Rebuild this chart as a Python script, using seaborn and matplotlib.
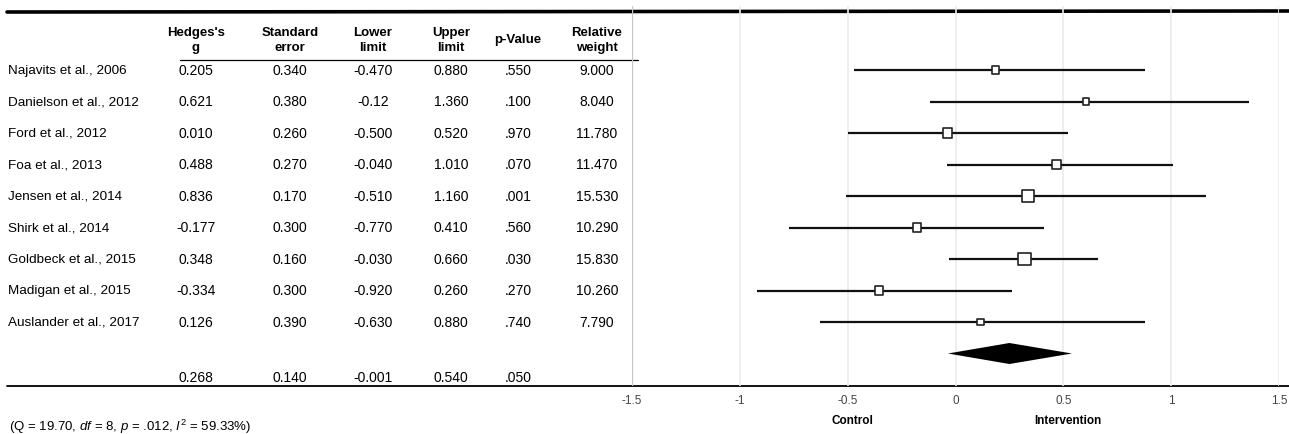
# -*- coding: utf-8 -*-
import matplotlib
matplotlib.use('Agg')
import matplotlib.pyplot as plt
import seaborn as sns
import pandas as pd

studies = ['Najavits et al., 2006', 'Danielson et al., 2012', 'Ford et al., 2012',
           'Foa et al., 2013', 'Jensen et al., 2014', 'Shirk et al., 2014',
           'Goldbeck et al., 2015', 'Madigan et al., 2015', 'Auslander et al., 2017']
hedges_g = ['0.205', '0.621', '0.010', '0.488', '0.836', '-0.177', '0.348', '-0.334', '0.126']
std_err = ['0.340', '0.380', '0.260', '0.270', '0.170', '0.300', '0.160', '0.300', '0.390']
lower = [-0.470, -0.12, -0.500, -0.040, -0.510, -0.770, -0.030, -0.920, -0.630]
upper = [0.880, 1.360, 0.520, 1.010, 1.160, 0.410, 0.660, 0.260, 0.880]
p_values = ['.550', '.100', '.970', '.070', '.001', '.560', '.030', '.270', '.740']
weights = [9.000, 8.040, 11.780, 11.470, 15.530, 10.290, 15.830, 10.260, 7.790]
# marker positions as drawn in the figure
plotted_g = [0.185, 0.605, -0.037, 0.47, 0.338, -0.18, 0.32, -0.355, 0.116]
lower_txt = ['-0.470', '-0.12', '-0.500', '-0.040', '-0.510', '-0.770', '-0.030', '-0.920', '-0.630']
upper_txt = ['0.880', '1.360', '0.520', '1.010', '1.160', '0.410', '0.660', '0.260', '0.880']

summary = {'g': 0.268, 'se': 0.140, 'lower': -0.001, 'upper': 0.540, 'p': '.050'}
summary_plot = (-0.035, 0.25, 0.54)  # diamond as drawn: left, centre, right

headers = [("Hedges's", 'g'), ('Standard', 'error'), ('Lower', 'limit'),
           ('Upper', 'limit'), ('p-Value', None), ('Relative', 'weight')]
xticks = [-1.5, -1, -0.5, 0, 0.5, 1, 1.5]
xticklabels = ['-1.5', '-1', '-0.5', '0', '0.5', '1', '1.5']
footnote = r'(Q = 19.70, $df$ = 8, $p$ = .012, $I^2$ = 59.33%)'

sns.set_style('white')
plt.rcParams['font.family'] = ['Liberation Sans', 'DejaVu Sans']
plt.rcParams['text.color'] = 'black'
plt.rcParams['mathtext.fontset'] = 'custom'
plt.rcParams['mathtext.rm'] = 'Liberation Sans'
plt.rcParams['mathtext.it'] = 'Liberation Sans:italic'

W, H = 1289, 435
fig = plt.figure(figsize=(W / 100, H / 100), dpi=100)
bg = fig.add_axes([0, 0, 1, 1])
bg.set_xlim(0, W)
bg.set_ylim(H, 0)
bg.axis('off')

row0, step = 71, 31.5
rows = [row0 + i * step for i in range(len(studies))]
sum_row = row0 + len(studies) * step
sum_txt_row = 378

df = pd.DataFrame({'study': studies, 'g': plotted_g, 'lo': lower, 'hi': upper,
                   'w': weights, 'y': rows})

# forest axes
x_left, x_right = 632, 1279
y_top, y_bot = 7, 387
ax = fig.add_axes([x_left / W, (H - y_bot) / H, (x_right - x_left) / W, (y_bot - y_top) / H])
ax.set_facecolor('none')
ax.set_xlim(-1.5, 1.5)
ax.set_ylim(y_bot, y_top)
for t in xticks[1:]:
    ax.axvline(t, color='#ebebeb', lw=1.2, zorder=0)
ax.axvline(-1.5, color='#c8c8c8', lw=1.0, zorder=0)
ax.hlines(df['y'], df['lo'], df['hi'], color='#111111', lw=1.6, zorder=2)
sizes = {w: (0.78 * w * 0.72) ** 2 for w in weights}
sns.scatterplot(data=df, x='g', y='y', size='w', sizes=sizes, marker='s',
                color='white', edgecolor='#222222', linewidth=1.2, legend=False,
                ax=ax, zorder=3)
l, c, r = summary_plot
ax.fill([l, c, r, c], [sum_row, sum_row - 10.5, sum_row, sum_row + 10.5],
        color='black', lw=0, zorder=3)
ax.set_xticks(xticks)
ax.set_xticklabels(xticklabels, fontsize=8.5, color='#444444')
ax.set_yticks([])
ax.tick_params(axis='x', length=0, pad=6)
ax.set_xlabel('')
ax.set_ylabel('')
for s in ax.spines.values():
    s.set_visible(False)

# table
col_x = [196, 290, 373, 451, 518, 597]
for cx, (l1, l2) in zip(col_x, headers):
    if l2 is None:
        bg.text(cx, 40, l1, ha='center', va='center', fontsize=9.5, fontweight='bold')
    else:
        bg.text(cx, 33, l1, ha='center', va='center', fontsize=9.5, fontweight='bold')
        bg.text(cx, 48, l2, ha='center', va='center', fontsize=9.5, fontweight='bold')

cols = [hedges_g, std_err, lower_txt, upper_txt, p_values, ['%.3f' % w for w in weights]]
for i, y in enumerate(rows):
    bg.text(8, y, studies[i], ha='left', va='center', fontsize=9.7)
    for cx, col in zip(col_x, cols):
        bg.text(cx, y, col[i], ha='center', va='center', fontsize=10)
sum_vals = ['%.3f' % summary['g'], '%.3f' % summary['se'], '%.3f' % summary['lower'],
            '%.3f' % summary['upper'], summary['p']]
for cx, v in zip(col_x, sum_vals):
    bg.text(cx, sum_txt_row, v, ha='center', va='center', fontsize=10)

bg.plot([7, W], [13, 12], color='black', lw=2.6, zorder=5)
bg.plot([7, W], [387, 387], color='black', lw=1.3, zorder=5)
bg.plot([180, 638], [61, 61], color='black', lw=0.9, zorder=5)

bg.text(852, 421, 'Control', ha='center', va='center', fontsize=8.5, fontweight='bold')
bg.text(1068, 421, 'Intervention', ha='center', va='center', fontsize=8.5, fontweight='bold')
bg.text(9, 427, footnote, ha='left', va='center', fontsize=9.5)

fig.savefig('out.png', dpi=100)
